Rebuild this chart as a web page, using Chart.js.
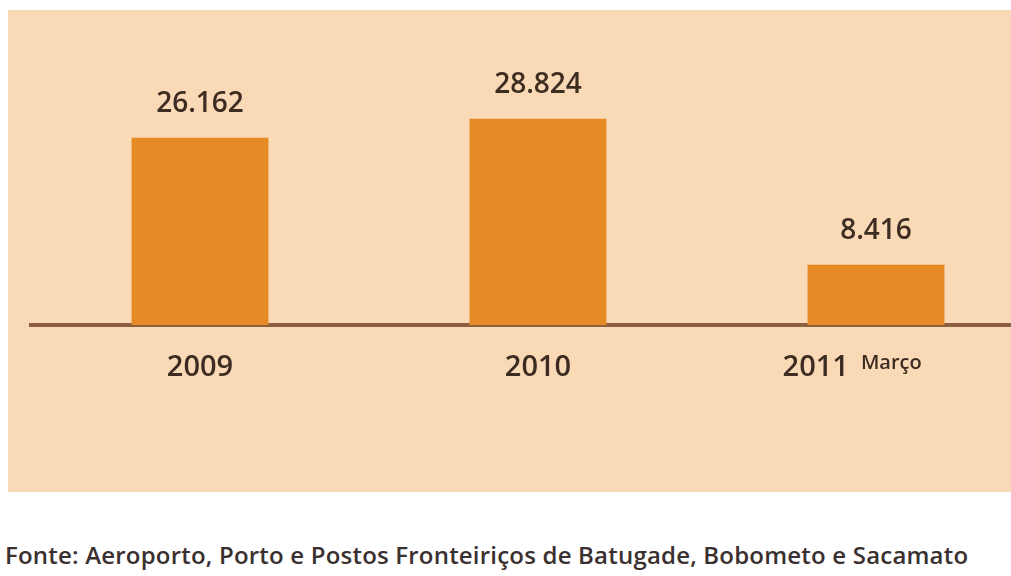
<!DOCTYPE html>
<html lang="pt">
<head>
<meta charset="utf-8">
<title>Visitantes 2009-2011</title>
<script src="https://cdn.jsdelivr.net/npm/chart.js@4"></script>
<style>
    html, body { margin: 0; padding: 0; background: #fff; overflow: hidden; }
    body { width: 1011px; height: 576px; position: relative; }
    #panel {
        position: absolute; left: 8px; top: 10px; width: 1010px; height: 482px;
        background: #fad9b6;
    }
    #chartBox { position: absolute; left: 0; top: 0; width: 1045px; height: 492px; }
    #source {
        position: absolute; left: 5px; top: 538px;
        font-family: 'Open Sans', sans-serif; font-weight: 600; font-size: 24px;
        color: #3a3030; white-space: nowrap; letter-spacing: 0.2px;
    }
</style>
</head>
<body>
<div id="panel"></div>
<div id="chartBox"><canvas id="chart"></canvas></div>
<div id="source"></div>
<script>
// Chart data
const years = ['2009', '2010', '2011'];
const yearNotes = ['', '', 'Março'];
const visitors = [26162, 28824, 8416];
const sourceText = 'Fonte: Aeroporto, Porto e Postos Fronteiriços de Batugade, Bobometo e Sacamato';

document.getElementById('source').textContent = sourceText;

const textColor = '#3d2c22';
const valueFont = { family: 'Open Sans', size: 28, weight: '600' };
const yearFont = { family: 'Open Sans', size: 29, weight: '600' };
const notePad = ' '.repeat(16);

function formatThousands(v) {
    return String(v).replace(/\B(?=(\d{3})+(?!\d))/g, '.');
}

// value above each bar
const valueLabels = {
    id: 'valueLabels',
    afterDatasetsDraw(chart) {
        const ctx = chart.ctx;
        const meta = chart.getDatasetMeta(0);
        ctx.save();
        ctx.font = `${valueFont.weight} ${valueFont.size}px ${valueFont.family}`;
        ctx.fillStyle = textColor;
        ctx.textAlign = 'center';
        ctx.textBaseline = 'alphabetic';
        meta.data.forEach((bar, i) => {
            ctx.fillText(formatThousands(visitors[i]), bar.x, bar.y - 26);
        });
        ctx.restore();
    }
};

// small note next to a year label (e.g. "Março")
const yearNoteLabels = {
    id: 'yearNoteLabels',
    afterDraw(chart) {
        const ctx = chart.ctx;
        const xScale = chart.scales.x;
        ctx.save();
        yearNotes.forEach((note, i) => {
            if (!note) return;
            ctx.font = `${yearFont.weight} ${yearFont.size}px ${yearFont.family}`;
            const full = ctx.measureText(years[i] + notePad).width;
            const yearW = ctx.measureText(years[i]).width;
            const left = xScale.getPixelForTick(i) - full / 2;
            ctx.font = `600 20px ${yearFont.family}`;
            ctx.fillStyle = textColor;
            ctx.textAlign = 'left';
            ctx.textBaseline = 'alphabetic';
            ctx.fillText(note, left + yearW + 12, 369);
        });
        ctx.restore();
    }
};

const chart = new Chart(document.getElementById('chart'), {
    type: 'bar',
    data: {
        labels: years,
        datasets: [{
            label: 'Visitantes',
            data: visitors,
            backgroundColor: '#e58a25',
            borderWidth: 0,
            categoryPercentage: 1,
            barPercentage: 0.405
        }]
    },
    options: {
        responsive: true,
        maintainAspectRatio: false,
        animation: false,
        layout: { padding: { top: 10, left: 31, right: 0, bottom: 0 } },
        plugins: {
            legend: { display: false },
            tooltip: { enabled: false }
        },
        scales: {
            x: {
                offset: true,
                grid: { color: 'transparent', drawTicks: false },
                border: { display: true, color: '#8c5f3e', width: 4 },
                ticks: {
                    color: textColor,
                    font: yearFont,
                    padding: 25,
                    maxRotation: 0,
                    callback: function(value, index) {
                        return yearNotes[index] ? years[index] + notePad : years[index];
                    }
                },
                afterFit: function(scale) { scale.height = 167; }
            },
            y: {
                display: false,
                min: 0,
                max: 44000
            }
        }
    },
    plugins: [valueLabels, yearNoteLabels]
});
</script>
</body>
</html>
